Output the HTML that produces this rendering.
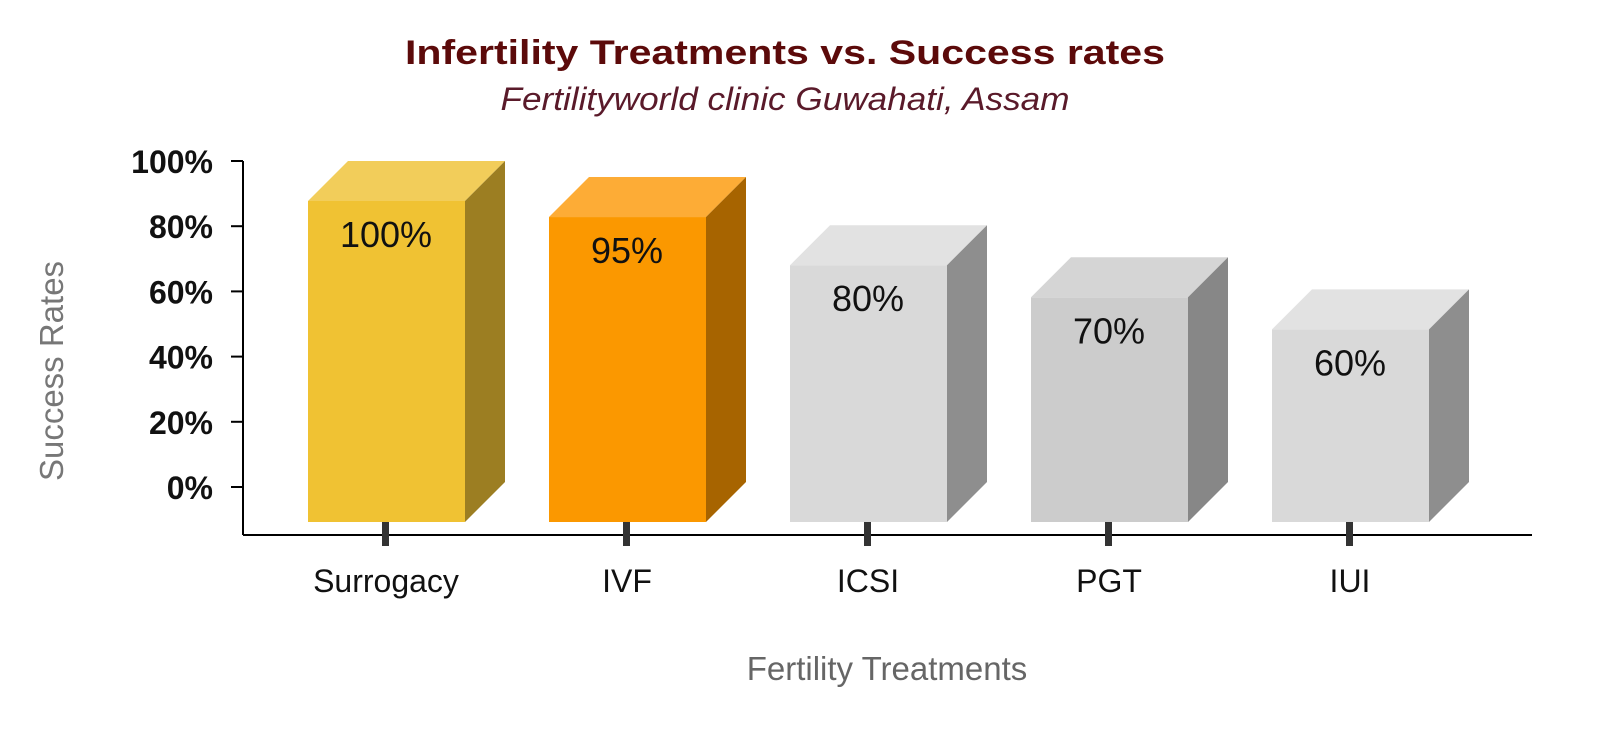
<!DOCTYPE html>
<html><head><meta charset="utf-8"><style>
html,body{margin:0;padding:0;background:#fff;}
svg{display:block;font-family:"Liberation Sans",Arial,sans-serif;}
</style></head><body>
<svg id="chart" width="1600" height="738" viewBox="0 0 1600 738" xmlns="http://www.w3.org/2000/svg">
<text x="785" y="64" text-anchor="middle" font-size="34" font-weight="bold" fill="#5C0A0A" textLength="760" lengthAdjust="spacingAndGlyphs">Infertility Treatments vs. Success rates</text>
<text x="785" y="110" text-anchor="middle" font-size="32" font-style="italic" fill="#5A1A2A" textLength="569" lengthAdjust="spacingAndGlyphs">Fertilityworld clinic Guwahati, Assam</text>
<text transform="translate(63,371) rotate(-90)" text-anchor="middle" font-size="33" fill="#777">Success Rates</text>
<text x="887" y="680" text-anchor="middle" font-size="33" fill="#666">Fertility Treatments</text>
<g id="yaxis"></g>
<g id="bars"></g>
<line x1="243" y1="535" x2="1532" y2="535" stroke="#000" stroke-width="2"/>
<line x1="243" y1="161" x2="243" y2="535" stroke="#000" stroke-width="2"/>
<g id="xlabels"></g>
</svg>
<script>
const categories = ["Surrogacy","IVF","ICSI","PGT","IUI"];
const values = [100,95,80,70,60];
const valueLabels = ["100%","95%","80%","70%","60%"];
const yTicks = [0,20,40,60,80,100];
const yTickLabels = ["0%","20%","40%","60%","80%","100%"];

const NS="http://www.w3.org/2000/svg";
const yAxisScale = v => 487 - v*3.26;
const barScale = v => 522 - v*3.21;
const xCenter = i => 386 + i*241;
const palettes = [
 {f:"#F0C233",t:"#F2CD5A",s:"#9C7E22"},
 {f:"#FB9800",t:"#FDAC36",s:"#A76400"},
 {f:"#D9D9D9",t:"#E2E2E2",s:"#8E8E8E"},
 {f:"#CCCCCC",t:"#D5D5D5",s:"#878787"},
 {f:"#D9D9D9",t:"#E2E2E2",s:"#8E8E8E"}];
function mk(tag,attrs,parent){const e=document.createElementNS(NS,tag);for(const k in attrs)e.setAttribute(k,attrs[k]);parent.appendChild(e);return e;}
const ya=document.getElementById('yaxis');
yTicks.forEach((v,i)=>{
 const y=yAxisScale(v);
 const l=mk('line',{x1:231,x2:243,y1:y,y2:y,stroke:'#000','stroke-width':2},ya);
 
 
 const t=mk('text',{x:213,y:y+12,'text-anchor':'end','font-size':32,'font-weight':'bold',fill:'#111'},ya);
 
 
 t.textContent=yTickLabels[i];
});
const bg=document.getElementById('bars'), xl=document.getElementById('xlabels');
const W=157,D=40,base=522;
categories.forEach((c,i)=>{
 const cx=xCenter(i), x0=cx-78, top=barScale(values[i]), p=palettes[i];
 const g=mk('g',{},bg);
 
 
 mk('rect',{x:x0,y:top,width:W,height:base-top,fill:p.f},g);
 mk('polygon',{points:`${x0},${top} ${x0+D},${top-D} ${x0+W+D},${top-D} ${x0+W},${top}`,fill:p.t},g);
 mk('polygon',{points:`${x0+W},${top} ${x0+W+D},${top-D} ${x0+W+D},${base-D} ${x0+W},${base}`,fill:p.s},g);
 const vl=mk('text',{x:cx,y:top+46,'text-anchor':'middle','font-size':36,fill:'#111'},g);
 
 
 vl.textContent=valueLabels[i];
 const tk=mk('rect',{x:cx-4,y:522,width:7,height:24,fill:'#333'},xl);
 
 
 const t=mk('text',{x:cx,y:592,'text-anchor':'middle','font-size':32,fill:'#111'},xl);
 
 
 t.textContent=c;
});
</script>
</body></html>
